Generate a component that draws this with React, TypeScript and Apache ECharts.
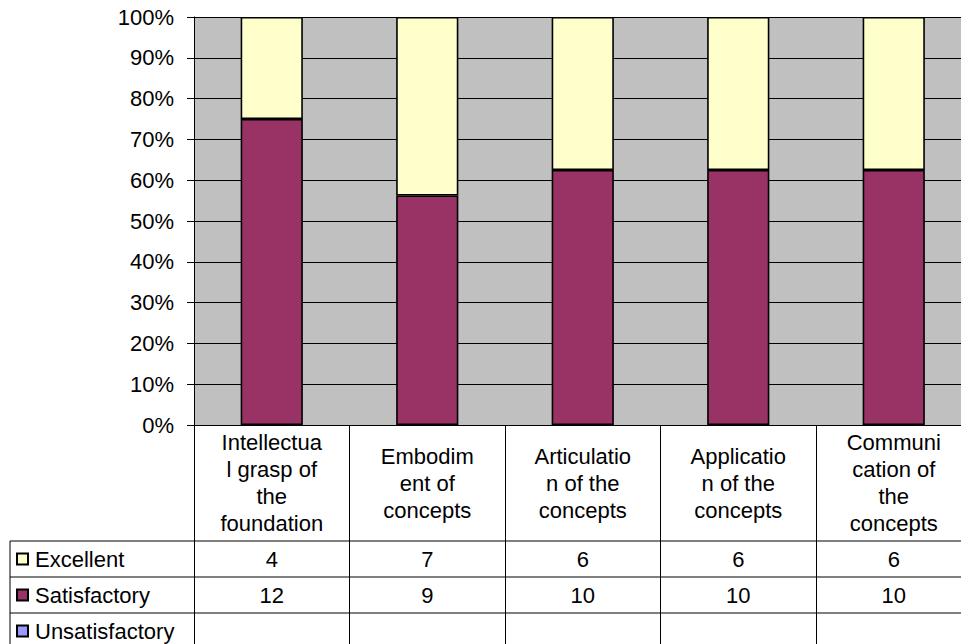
import React, { useEffect, useRef } from "react";
import * as echarts from "echarts";

// Category labels as displayed (wrapped like the source)
const categories = [
  "Intellectua\nl grasp of\nthe\nfoundation",
  "Embodim\nent of\nconcepts",
  "Articulatio\nn of the\nconcepts",
  "Applicatio\nn of the\nconcepts",
  "Communi\ncation of\nthe\nconcepts",
];
const seriesNames = ["Excellent", "Satisfactory", "Unsatisfactory"];
const excellent: (number | null)[] = [4, 7, 6, 6, 6];
const satisfactory: (number | null)[] = [12, 9, 10, 10, 10];
const unsatisfactory: (number | null)[] = [null, null, null, null, null];
const seriesColors = ["#FFFFCC", "#993366", "#9999FF"];

const FONT = "'Liberation Sans', Arial, sans-serif";
const FS = 22;

export default function App() {
  const ref = useRef<HTMLDivElement>(null);

  useEffect(() => {
    if (!ref.current) return;
    const chart = echarts.init(ref.current, null, { renderer: "svg" });
    const raw = [excellent, satisfactory, unsatisfactory];
    const totals = categories.map((_, i) =>
      raw.reduce((s, arr) => s + (arr[i] ?? 0), 0)
    );
    const pct = (arr: (number | null)[]) =>
      arr.map((v, i) => (v == null ? "-" : (v / totals[i]) * 100));

    const gridTop = 17;
    const gridBottom = 219;
    const H = 644;
    const axisY = H - gridBottom; // 425
    const headerH = 116;
    const rowH = 36;

    // stacking order bottom -> top: Unsatisfactory, Satisfactory, Excellent
    const order = [2, 1, 0];
    const series = order.map((k) => ({
      name: seriesNames[k],
      type: "bar" as const,
      stack: "total",
      barWidth: "40%",
      data: pct(raw[k]),
      itemStyle: { color: seriesColors[k], borderColor: "#000", borderWidth: 1.6 },
      silent: true,
    }));

    chart.setOption({
      animation: false,
      backgroundColor: "#fff",
      textStyle: { fontFamily: FONT, color: "#000" },
      grid: { left: 194, right: 0.5, top: gridTop, bottom: gridBottom, show: true, backgroundColor: "#C0C0C0", borderWidth: 0 },
      xAxis: {
        type: "category",
        data: categories,
        axisLine: { lineStyle: { color: "#000", width: 1 } },
        axisTick: { show: true, inside: false, length: 230, lineStyle: { color: "#000", width: 1 } },
        axisLabel: {
          interval: 0,
          margin: headerH / 2,
          verticalAlign: "middle",
          fontSize: FS,
          lineHeight: 27,
          color: "#000",
          fontFamily: FONT,
          align: "center",
        },
        splitLine: { show: false },
      },
      yAxis: {
        type: "value",
        min: 0,
        max: 100,
        interval: 10,
        axisLine: { show: true, lineStyle: { color: "#000", width: 1 } },
        axisTick: { show: true, length: 7, lineStyle: { color: "#000" } },
        axisLabel: { formatter: "{value}%", fontSize: FS, color: "#000", fontFamily: FONT, margin: 20 },
        splitLine: { show: true, lineStyle: { color: "#000", width: 1 } },
      },
      series,
    });

    // Data table below the axis
    const graphic: any[] = [];
    const rowTops = [0, 1, 2, 3].map((r) => axisY + headerH + r * rowH);
    rowTops.forEach((y) => {
      graphic.push({ type: "line", shape: { x1: 10, y1: y, x2: 972, y2: y }, style: { stroke: "#000", lineWidth: 1 }, silent: true });
    });
    graphic.push({ type: "line", shape: { x1: 10, y1: rowTops[0], x2: 10, y2: H + 10 }, style: { stroke: "#000", lineWidth: 1 }, silent: true });

    seriesNames.forEach((name, r) => {
      const cy = rowTops[r] + rowH / 2;
      graphic.push({ type: "rect", shape: { x: 17, y: cy - 5.5, width: 11, height: 11 }, style: { fill: seriesColors[r], stroke: "#000", lineWidth: 2 }, silent: true });
      graphic.push({ type: "text", x: 35, y: cy, style: { text: name, fontSize: FS, fontFamily: FONT, fill: "#000", verticalAlign: "middle", align: "left" }, silent: true });
      raw[r].forEach((v, i) => {
        if (v == null) return;
        const x = chart.convertToPixel({ xAxisIndex: 0 }, categories[i]) as number;
        graphic.push({ type: "text", x, y: cy, style: { text: String(v), fontSize: FS, fontFamily: FONT, fill: "#000", align: "center", verticalAlign: "middle" }, silent: true });
      });
    });

    chart.setOption({ graphic });

    return () => chart.dispose();
  }, []);

  return (
    <div style={{ position: "absolute", left: 0, top: 0, width: 961, height: 644, overflow: "hidden", background: "#fff" }}>
      <div ref={ref} style={{ width: 972, height: 644 }} />
    </div>
  );
}
